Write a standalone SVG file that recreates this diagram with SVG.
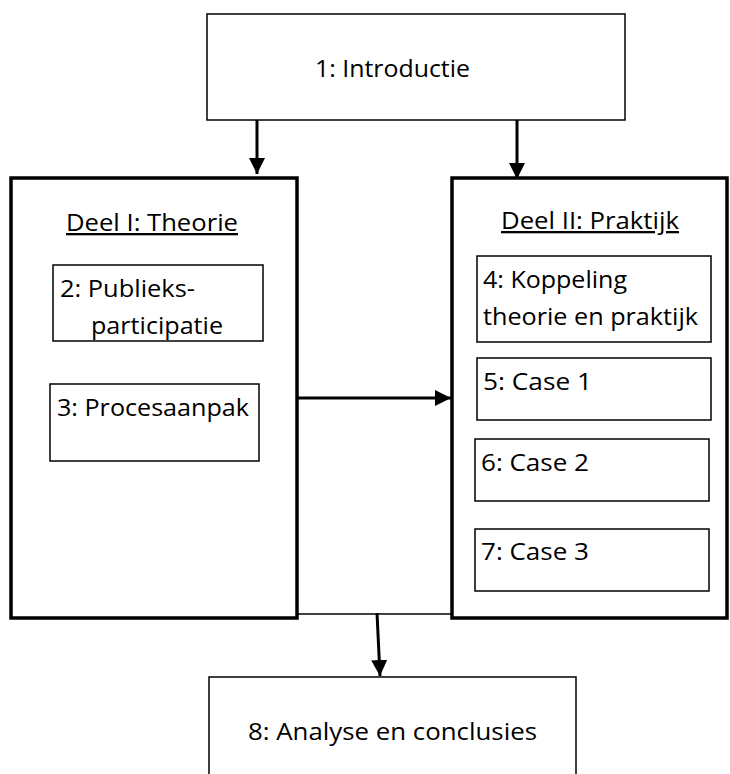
<svg xmlns="http://www.w3.org/2000/svg" width="730" height="774" viewBox="0 0 730 774">
  <style>
    .t { font-family: "Open Sans", "Liberation Sans", sans-serif; font-size: 23px; fill: #000; }
    .u { text-decoration: underline; }
    .box { fill: #fff; stroke: #000; stroke-width: 1.5; }
    .part { fill: #fff; stroke: #000; stroke-width: 3.5; }
    .inner { fill: #fff; stroke: #000; stroke-width: 1.5; }
    .conn { stroke: #000; stroke-width: 3; fill: none; }
    .thin { stroke: #000; stroke-width: 1.5; fill: none; }
  </style>
  <defs>
    <marker id="head" markerUnits="userSpaceOnUse" markerWidth="18" markerHeight="18" refX="16" refY="8" orient="auto">
      <path d="M0,0 L16,8 L0,16 Z" fill="#000"/>
    </marker>
  </defs>
  <rect width="730" height="774" fill="#fff"/>

  <g id="intro">
    <rect class="box" x="207" y="14" width="418" height="106"/>
    <text class="t" x="315" y="77" textLength="155" lengthAdjust="spacingAndGlyphs">1: Introductie</text>
  </g>

  <g id="deel1">
    <rect class="part" x="11" y="178" width="286" height="440"/>
    <text class="t u" x="66" y="231" textLength="172" lengthAdjust="spacingAndGlyphs">Deel I: Theorie</text>
  </g>

  <g id="h2">
    <rect class="inner" x="53" y="265" width="210" height="76"/>
    <text class="t" x="60" y="297" textLength="135" lengthAdjust="spacingAndGlyphs">2: Publieks-</text>
    <text class="t" x="91" y="334" textLength="132" lengthAdjust="spacingAndGlyphs">participatie</text>
  </g>

  <g id="h3">
    <rect class="inner" x="50" y="384" width="209" height="77"/>
    <text class="t" x="57" y="416" textLength="192" lengthAdjust="spacingAndGlyphs">3: Procesaanpak</text>
  </g>

  <g id="deel2">
    <rect class="part" x="452" y="178" width="275" height="440"/>
    <text class="t u" x="501" y="229" textLength="178" lengthAdjust="spacingAndGlyphs">Deel II: Praktijk</text>
  </g>

  <g id="h4">
    <rect class="inner" x="477" y="256" width="234" height="86"/>
    <text class="t" x="483" y="288" textLength="144" lengthAdjust="spacingAndGlyphs">4: Koppeling</text>
    <text class="t" x="483" y="325" textLength="215" lengthAdjust="spacingAndGlyphs">theorie en praktijk</text>
  </g>

  <g id="h5">
    <rect class="inner" x="477" y="358" width="234" height="62"/>
    <text class="t" x="483" y="390" textLength="109" lengthAdjust="spacingAndGlyphs">5: Case 1</text>
  </g>

  <g id="h6">
    <rect class="inner" x="475" y="439" width="234" height="62"/>
    <text class="t" x="481" y="471" textLength="108" lengthAdjust="spacingAndGlyphs">6: Case 2</text>
  </g>

  <g id="h7">
    <rect class="inner" x="475" y="529" width="234" height="62"/>
    <text class="t" x="481" y="560" textLength="108" lengthAdjust="spacingAndGlyphs">7: Case 3</text>
  </g>

  <g id="h8">
    <rect class="box" x="209" y="677" width="367" height="110"/>
    <text class="t" x="248" y="740" textLength="289" lengthAdjust="spacingAndGlyphs">8: Analyse en conclusies</text>
  </g>

  <g id="connectors">
    <line class="conn" x1="257" y1="120" x2="257" y2="174" marker-end="url(#head)"/>
    <line class="conn" x1="517" y1="120" x2="517" y2="179" marker-end="url(#head)"/>
    <line class="conn" x1="298" y1="398" x2="451" y2="398" marker-end="url(#head)"/>
    <line class="thin" x1="297" y1="614" x2="452" y2="614"/>
    <line class="conn" x1="377" y1="613" x2="380" y2="676" marker-end="url(#head)"/>
  </g>
</svg>
